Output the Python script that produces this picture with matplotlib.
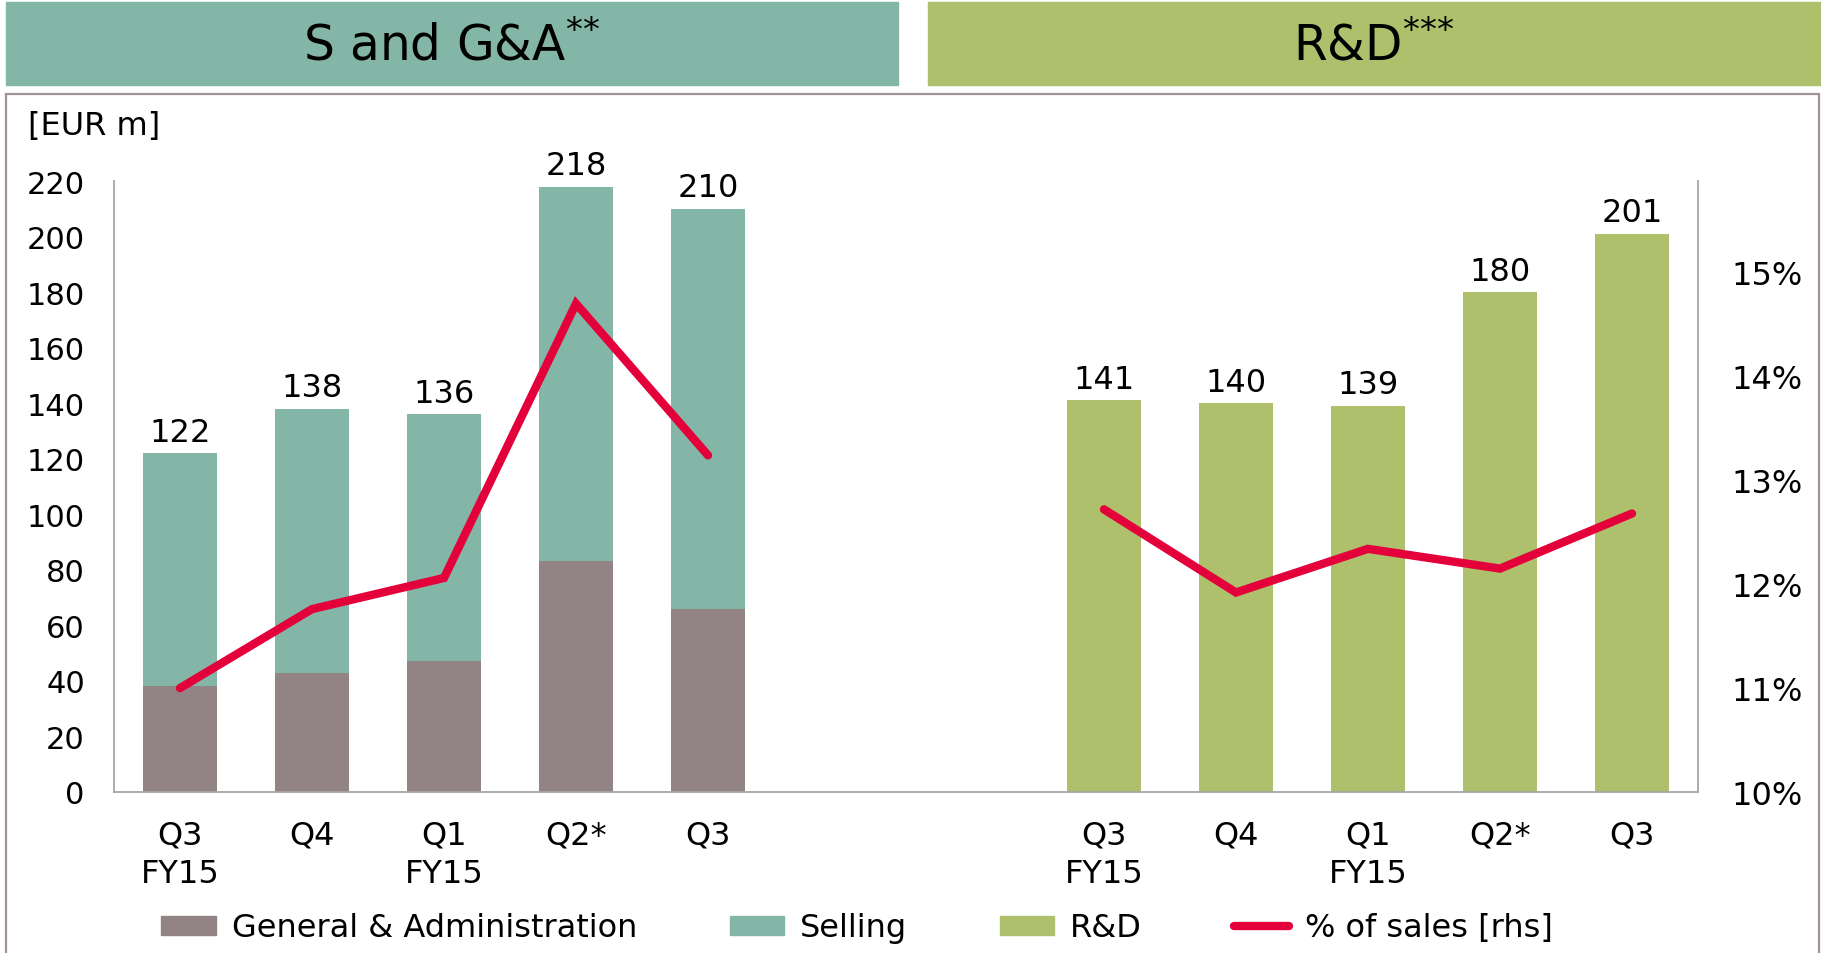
import numpy as np
import matplotlib
matplotlib.use("Agg")
import matplotlib.pyplot as plt
from matplotlib.patches import Rectangle, Patch
from matplotlib.lines import Line2D

# --- Data ---
quarters = ["Q3\nFY15", "Q4", "Q1\nFY15", "Q2*", "Q3"]
ga = [38, 43, 47, 83, 66]          # General & Administration
sga_total = [122, 138, 136, 218, 210]
selling = [t - g for t, g in zip(sga_total, ga)]
rnd = [141, 140, 139, 180, 201]
sga_pct = [11.0, 11.76, 12.06, 14.70, 13.24]   # % of sales [rhs]
rnd_pct = [12.72, 11.92, 12.34, 12.15, 12.68]

left_ticks = list(range(0, 221, 20))
right_ticks = [10, 11, 12, 13, 14, 15]

# --- Colours ---
c_ga = "#928385"
c_sell = "#84B6A7"
c_rnd = "#AEC06C"
c_line = "#E4003A"
c_axis = "#A6A6A6"
c_frame = "#A09296"

plt.rcParams["font.family"] = "DejaVu Sans"
fs = 23

W, H = 1821, 954
fig = plt.figure(figsize=(W / 100, H / 100), dpi=100)

# header boxes
fig.patches.append(Rectangle((6 / W, 1 - 86 / H), (898 - 6) / W, 83 / H,
                             transform=fig.transFigure, color=c_sell, zorder=0))
fig.patches.append(Rectangle((928 / W, 1 - 86 / H), (1821 - 928) / W, 83 / H,
                             transform=fig.transFigure, color=c_rnd, zorder=0))
fig.text(452 / W, 1 - 46 / H, r"S and G&A$^{{*}{*}}$", ha="center", va="center", fontsize=35)
fig.text(1374 / W, 1 - 46 / H, r"R&D$^{{*}{*}{*}}$", ha="center", va="center", fontsize=35)

# frame around chart area
fig.patches.append(Rectangle((6 / W, -0.05), (1819 - 6) / W, 1 - 95 / H + 0.05,
                             transform=fig.transFigure, fill=False,
                             edgecolor=c_frame, linewidth=1.6, zorder=0))

ax = fig.add_axes([114 / W, 1 - 793 / H, (1698 - 114) / W, (793 - 182) / H])

x_sga = np.arange(5)
x_rnd = np.arange(7, 12)
bw = 0.56

ax.bar(x_sga, ga, bw, color=c_ga, zorder=2)
ax.bar(x_sga, selling, bw, bottom=ga, color=c_sell, zorder=2)
ax.bar(x_rnd, rnd, bw, color=c_rnd, zorder=2)

for x, v in zip(x_sga, sga_total):
    ax.annotate(str(v), (x, v), xytext=(0, 4), textcoords="offset points",
                ha="center", va="bottom", fontsize=fs)
for x, v in zip(x_rnd, rnd):
    ax.annotate(str(v), (x, v), xytext=(0, 4), textcoords="offset points",
                ha="center", va="bottom", fontsize=fs)

ax.set_xlim(-0.5, 11.5)
ax.set_ylim(0, 220)
ax.set_yticks(left_ticks)
ax.tick_params(axis="y", length=0, pad=21, labelsize=22)
ax.set_xticks(list(x_sga) + list(x_rnd))
ax.set_xticklabels(quarters + quarters, fontsize=fs, linespacing=1.32)
ax.tick_params(axis="x", length=0, pad=20)
for s in ["top", "right"]:
    ax.spines[s].set_visible(False)
for s in ["left", "bottom"]:
    ax.spines[s].set_color(c_axis)
    ax.spines[s].set_linewidth(1.3)

ax2 = ax.twinx()
ax2.plot(x_sga, sga_pct, color=c_line, linewidth=6, solid_capstyle="round",
         solid_joinstyle="miter", zorder=3)
ax2.plot(x_rnd, rnd_pct, color=c_line, linewidth=6, solid_capstyle="round",
         solid_joinstyle="miter", zorder=3)
ax2.set_ylim(10, 15.88)
ax2.set_yticks(right_ticks)
ax2.set_yticklabels([f"{t}%" for t in right_ticks])
ax2.tick_params(axis="y", length=0, pad=24, labelsize=fs)
for s in ["top", "left", "bottom"]:
    ax2.spines[s].set_visible(False)
ax2.spines["right"].set_color(c_axis)
ax2.spines["right"].set_linewidth(1.3)

fig.text(28 / W, 1 - 127 / H, "[EUR m]", ha="left", va="center", fontsize=fs)

handles = [Patch(color=c_ga), Patch(color=c_sell), Patch(color=c_rnd),
           Line2D([], [], color=c_line, linewidth=6, solid_capstyle="round")]
labels = ["General & Administration", "Selling", "R&D", "% of sales [rhs]"]
fig.legend(handles, labels, loc="center", bbox_to_anchor=(857 / W, 1 - 929 / H),
           ncol=4, frameon=False, fontsize=fs, handlelength=1.7, handleheight=0.55,
           columnspacing=2.9, handletextpad=0.5)

fig.savefig("out.png", dpi=100)
